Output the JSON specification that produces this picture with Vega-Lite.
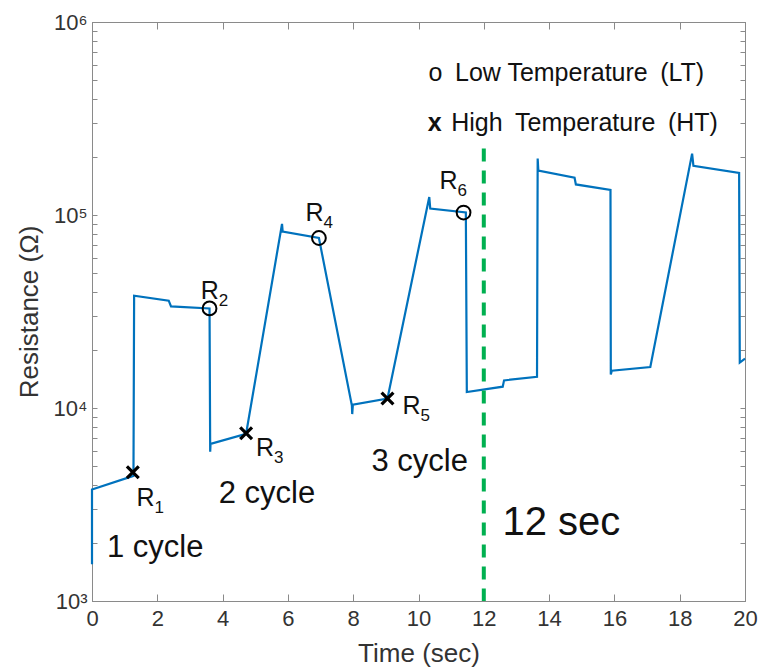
{
  "$schema": "https://vega.github.io/schema/vega-lite/v6.json",
  "width": 653,
  "height": 579,
  "autosize": {"type": "none"},
  "padding": {"left": 92, "top": 22, "right": 15, "bottom": 67},
  "background": "white",
  "config": {
    "view": {"stroke": "#8a8a8a", "strokeWidth": 1},
    "font": "Liberation Sans",
    "axis": {
      "grid": false,
      "domainColor": "#8a8a8a",
      "tickColor": "#8a8a8a",
      "labelColor": "#333333",
      "titleColor": "#333333",
      "labelFont": "Liberation Sans",
      "titleFont": "Liberation Sans",
      "titleFontWeight": "normal"
    }
  },
  "datasets": {
    "curve": [
      {"t": 0.0, "r": 1550},
      {"t": 0.0, "r": 3780},
      {"t": 1.27, "r": 4450},
      {"t": 1.29, "r": 38200},
      {"t": 2.35, "r": 36000},
      {"t": 2.42, "r": 33600},
      {"t": 3.6, "r": 32800},
      {"t": 3.62, "r": 5930},
      {"t": 3.63, "r": 6520},
      {"t": 4.72, "r": 7350},
      {"t": 5.82, "r": 90000},
      {"t": 5.84, "r": 82000},
      {"t": 6.95, "r": 76000},
      {"t": 7.96, "r": 10300},
      {"t": 7.97, "r": 9300},
      {"t": 7.99, "r": 10400},
      {"t": 9.05, "r": 11200},
      {"t": 10.33, "r": 124000},
      {"t": 10.36, "r": 108000},
      {"t": 11.45, "r": 103000},
      {"t": 11.48, "r": 12100},
      {"t": 12.58, "r": 12900},
      {"t": 12.62, "r": 13900},
      {"t": 13.63, "r": 14500},
      {"t": 13.65, "r": 196000},
      {"t": 13.67, "r": 170000},
      {"t": 14.78, "r": 156000},
      {"t": 14.82, "r": 144000},
      {"t": 15.88, "r": 135000},
      {"t": 15.89, "r": 14900},
      {"t": 15.92, "r": 15600},
      {"t": 17.1, "r": 16300},
      {"t": 18.38, "r": 208000},
      {"t": 18.42, "r": 180000},
      {"t": 19.82, "r": 165000},
      {"t": 19.84, "r": 17200},
      {"t": 20.0, "r": 18000}
    ],
    "lt": [
      {"t": 3.6, "r": 32800},
      {"t": 6.95, "r": 76000},
      {"t": 11.38, "r": 103000}
    ],
    "ht": [
      {"t": 1.25, "r": 4650},
      {"t": 4.72, "r": 7400},
      {"t": 9.05, "r": 11200}
    ],
    "rlabels": [
      {"t": 1.36, "r": 3400, "sub": "1"},
      {"t": 3.33, "r": 40500, "sub": "2"},
      {"t": 5.02, "r": 6220, "sub": "3"},
      {"t": 6.54, "r": 102000, "sub": "4"},
      {"t": 9.51, "r": 10240, "sub": "5"},
      {"t": 10.64, "r": 150000, "sub": "6"}
    ],
    "cycles": [
      {"t": 0.46, "r": 1875, "label": "1 cycle"},
      {"t": 3.88, "r": 3585, "label": "2 cycle"},
      {"t": 8.56, "r": 5250, "label": "3 cycle"}
    ],
    "sec": [{"t": 12.57, "r": 2535, "label": "12 sec"}],
    "vline": [{"t": 12, "r1": 221000, "r2": 1000}],
    "legend": [
      {"t": 10.31, "r": 545000, "label": "o\u2002Low Temperature\u2002(LT)"},
      {"t": 11.0, "r": 300000, "label": "High\u2002Temperature\u2002(HT)"}
    ],
    "legx": [{"t": 10.28, "r": 300000, "label": "x"}]
  },
  "resolve": {"axis": {"x": "independent", "y": "independent"}},
  "layer": [
    {
      "data": {"name": "curve"},
      "mark": {"type": "line", "color": "#0072BD", "strokeWidth": 2.2, "strokeJoin": "miter"},
      "encoding": {
        "x": {"field": "t", "type": "quantitative", "scale": {"domain": [0, 20], "nice": false, "zero": false},
          "axis": {"orient": "bottom", "values": [0, 2, 4, 6, 8, 10, 12, 14, 16, 18, 20], "tickSize": -7, "labelPadding": 14, "labelFontSize": 22, "title": "Time (sec)", "titleFontSize": 26, "titlePadding": 11, "labelFlush": false}},
        "y": {"field": "r", "type": "quantitative", "scale": {"type": "log", "domain": [1000, 1000000], "nice": false},
          "axis": {"orient": "left", "values": [1000, 2000, 3000, 4000, 5000, 6000, 7000, 8000, 9000, 10000, 20000, 30000, 40000, 50000, 60000, 70000, 80000, 90000, 100000, 200000, 300000, 400000, 500000, 600000, 700000, 800000, 900000, 1000000],
            "labelExpr": "datum.value == 1000 ? '10³' : datum.value == 10000 ? '10⁴' : datum.value == 100000 ? '10⁵' : datum.value == 1000000 ? '10⁶' : ''",
            "tickSize": -5, "labelPadding": 10, "labelFontSize": 22, "title": "Resistance (Ω)", "titleFontSize": 26, "titlePadding": 11, "labelFlush": false}}
      }
    },
    {
      "data": {"name": "curve"},
      "mark": {"type": "line", "opacity": 0},
      "encoding": {
        "x": {"field": "t", "type": "quantitative", "axis": {"orient": "top", "values": [0, 2, 4, 6, 8, 10, 12, 14, 16, 18, 20], "tickSize": -7, "labels": false, "title": null}},
        "y": {"field": "r", "type": "quantitative", "axis": {"orient": "right", "values": [1000, 2000, 3000, 4000, 5000, 6000, 7000, 8000, 9000, 10000, 20000, 30000, 40000, 50000, 60000, 70000, 80000, 90000, 100000, 200000, 300000, 400000, 500000, 600000, 700000, 800000, 900000, 1000000], "tickSize": -5, "labels": false, "title": null}}
      }
    },
    {
      "data": {"name": "vline"},
      "mark": {"type": "rule", "color": "#00B050", "strokeWidth": 4, "strokeDash": [13, 9]},
      "encoding": {
        "x": {"field": "t", "type": "quantitative", "axis": null},
        "y": {"field": "r1", "type": "quantitative", "axis": null},
        "y2": {"field": "r2"}
      }
    },
    {
      "data": {"name": "lt"},
      "mark": {"type": "point", "shape": "circle", "filled": false, "stroke": "black", "strokeWidth": 2, "size": 190, "opacity": 1},
      "encoding": {
        "x": {"field": "t", "type": "quantitative", "axis": null},
        "y": {"field": "r", "type": "quantitative", "axis": null}
      }
    },
    {
      "data": {"name": "ht"},
      "mark": {"type": "point", "shape": "M-1,-1L1,1M-1,1L1,-1", "filled": false, "stroke": "black", "strokeWidth": 3.2, "size": 140, "opacity": 1},
      "encoding": {
        "x": {"field": "t", "type": "quantitative", "axis": null},
        "y": {"field": "r", "type": "quantitative", "axis": null}
      }
    },
    {
      "data": {"name": "rlabels"},
      "mark": {"type": "text", "text": "R", "align": "left", "baseline": "middle", "fontSize": 25, "color": "#111111"},
      "encoding": {
        "x": {"field": "t", "type": "quantitative", "axis": null},
        "y": {"field": "r", "type": "quantitative", "axis": null}
      }
    },
    {
      "data": {"name": "rlabels"},
      "mark": {"type": "text", "align": "left", "baseline": "middle", "fontSize": 17, "dx": 18, "dy": 10, "color": "#111111"},
      "encoding": {
        "x": {"field": "t", "type": "quantitative", "axis": null},
        "y": {"field": "r", "type": "quantitative", "axis": null},
        "text": {"field": "sub"}
      }
    },
    {
      "data": {"name": "cycles"},
      "mark": {"type": "text", "align": "left", "baseline": "middle", "fontSize": 31, "color": "#111111"},
      "encoding": {
        "x": {"field": "t", "type": "quantitative", "axis": null},
        "y": {"field": "r", "type": "quantitative", "axis": null},
        "text": {"field": "label"}
      }
    },
    {
      "data": {"name": "sec"},
      "mark": {"type": "text", "align": "left", "baseline": "middle", "fontSize": 40, "color": "#111111"},
      "encoding": {
        "x": {"field": "t", "type": "quantitative", "axis": null},
        "y": {"field": "r", "type": "quantitative", "axis": null},
        "text": {"field": "label"}
      }
    },
    {
      "data": {"name": "legend"},
      "mark": {"type": "text", "align": "left", "baseline": "middle", "fontSize": 25, "color": "#111111"},
      "encoding": {
        "x": {"field": "t", "type": "quantitative", "axis": null},
        "y": {"field": "r", "type": "quantitative", "axis": null},
        "text": {"field": "label"}
      }
    },
    {
      "data": {"name": "legx"},
      "mark": {"type": "text", "align": "left", "baseline": "middle", "fontSize": 25, "fontWeight": "bold", "color": "#111111"},
      "encoding": {
        "x": {"field": "t", "type": "quantitative", "axis": null},
        "y": {"field": "r", "type": "quantitative", "axis": null},
        "text": {"field": "label"}
      }
    }
  ]
}
